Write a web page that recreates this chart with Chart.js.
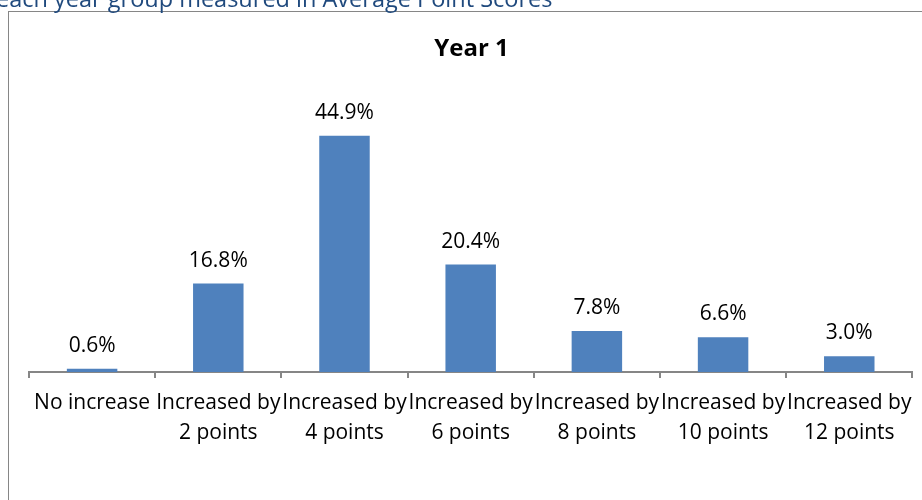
<!DOCTYPE html>
<html>
<head>
<meta charset="utf-8">
<script src="https://cdn.jsdelivr.net/npm/chart.js@4"></script>
<style>
  body { margin: 0; background: #fff; overflow: hidden; }
  #wrap { position: relative; width: 922px; height: 500px; }
  #heading {
    position: absolute; left: -4px; top: -18px;
    font-family: "Open Sans", sans-serif; font-size: 23.5px;
    color: #1f497d; white-space: nowrap;
  }
</style>
</head>
<body>
<div id="wrap">
  <canvas id="yearChart" width="922" height="500"></canvas>
  <div id="heading">each year group measured in Average Point Scores</div>
</div>
<script>
const chartTitle = 'Year 1';
const categories = [
  'No increase',
  ['Increased by', '2 points'],
  ['Increased by', '4 points'],
  ['Increased by', '6 points'],
  ['Increased by', '8 points'],
  ['Increased by', '10 points'],
  ['Increased by', '12 points']
];
const percentages = [0.6, 16.8, 44.9, 20.4, 7.8, 6.6, 3.0];

const fontFamily = '"Open Sans", sans-serif';

// frame round the chart, like the spreadsheet chart box
const framePlugin = {
  id: 'frame',
  beforeDraw(chart) {
    const ctx = chart.ctx;
    ctx.save();
    ctx.strokeStyle = '#868686';
    ctx.lineWidth = 1;
    ctx.strokeRect(8.5, 11.5, 930, 500);
    ctx.restore();
  }
};

// value labels above each bar
const valueLabels = {
  id: 'valueLabels',
  afterDatasetsDraw(chart) {
    const ctx = chart.ctx;
    const meta = chart.getDatasetMeta(0);
    ctx.save();
    ctx.font = '21px ' + fontFamily;
    ctx.fillStyle = '#000';
    ctx.textAlign = 'center';
    ctx.textBaseline = 'alphabetic';
    meta.data.forEach((bar, i) => {
      ctx.fillText(percentages[i].toFixed(1) + '%', bar.x, bar.y - 17);
    });
    ctx.restore();
  }
};

let myChart = new Chart(document.getElementById('yearChart'), {
  type: 'bar',
  data: {
    labels: categories,
    datasets: [{
      data: percentages,
      backgroundColor: '#4f81bd',
      categoryPercentage: 0.8,
      barPercentage: 0.5
    }]
  },
  options: {
    responsive: false,
    animation: false,
    layout: { padding: { left: 29, right: 8, top: 0, bottom: 42 } },
    plugins: {
      legend: { display: false },
      tooltip: { enabled: false },
      title: {
        display: true,
        text: chartTitle,
        color: '#000',
        font: { family: fontFamily, size: 24, weight: 'bold' },
        padding: { top: 35, bottom: 45 }
      }
    },
    scales: {
      x: {
        grid: {
          offset: true,
          drawOnChartArea: false,
          drawTicks: true,
          tickLength: 6,
          lineWidth: 2,
          color: '#868686'
        },
        border: { color: '#868686', width: 2 },
        ticks: {
          color: '#000',
          font: { family: fontFamily, size: 21, lineHeight: 1.43 },
          maxRotation: 0,
          autoSkip: false,
          padding: 10
        }
      },
      y: {
        display: false,
        min: 0,
        max: 50
      }
    }
  },
  plugins: [framePlugin, valueLabels]
});
</script>
</body>
</html>
